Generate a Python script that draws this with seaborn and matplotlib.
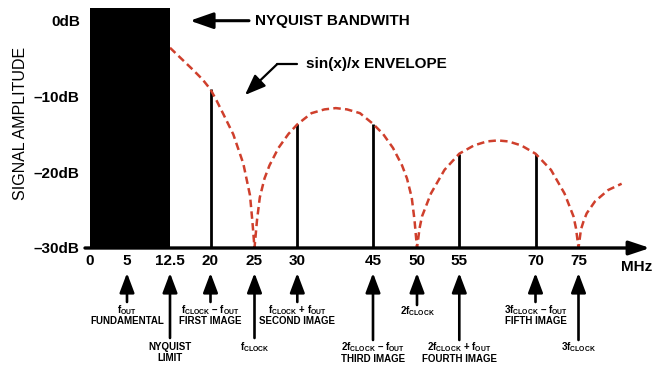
import numpy as np
import pandas as pd
import matplotlib
matplotlib.use("Agg")
import matplotlib.pyplot as plt
import seaborn as sns

# ---------------- data ----------------
env_mhz = [12.5, 14.35, 16.81, 18.52, 20, 20.68, 21.45, 22.59, 23.73, 24.49, 24.77, 25,
           25.29, 25.62, 26.17, 26.75, 27.80, 28.97, 30, 32.81, 35.39, 37.62, 39.85, 42.42,
           45, 46.14, 47.27, 48.30, 48.86, 49.40, 49.72, 50,
           50.30, 50.59, 51.65, 53.25, 55, 57.89, 60.45, 62.57, 64.64, 67.20, 70,
           71.80, 73.37, 74.42, 74.71, 75,
           75.29, 75.59, 75.96, 76.94, 78.51, 80.08]
env_db = [-3.55, -4.82, -6.50, -7.73, -9.05, -10.50, -12.29, -14.99, -18.86, -23.05, -26.62, -30,
          -26.35, -23.32, -20.81, -19.09, -16.78, -14.93, -13.67, -12.19, -11.69, -11.52, -11.69, -12.19,
          -13.6, -14.93, -16.78, -19.09, -20.81, -23.32, -26.35, -30,
          -27.41, -25.83, -22.79, -19.68, -17.54, -16.45, -15.92, -15.79, -15.92, -16.45, -17.54,
          -19.68, -22.79, -25.83, -27.41, -30,
          -27.54, -26.49, -25.43, -23.84, -22.33, -21.51]

line_mhz = [5, 20, 30, 45, 55, 70]
line_db = [0, -9.05, -13.67, -13.6, -17.54, -17.54]

nyquist_band = [0, 12.5]
nyquist_top_db = 1.74

xtick_vals = [0, 5, 12.5, 20, 25, 30, 45, 50, 55, 70, 75]
xtick_labels = ["0", "5", "12.5", "20", "25", "30", "45", "50", "55", "70", "75"]
ytick_vals = [0, -10, -20, -30]
ytick_labels = ["0dB", "–10dB", "–20dB", "–30dB"]

ann_mhz = [5, 12.5, 20, 25, 30, 45, 50, 55, 70, 75]
ann_line1 = [r"$\mathregular{f_{OUT}}$",
             "NYQUIST",
             r"$\mathregular{f_{CLOCK}}$ – $\mathregular{f_{OUT}}$",
             r"$\mathregular{f_{CLOCK}}$",
             r"$\mathregular{f_{CLOCK}}$ + $\mathregular{f_{OUT}}$",
             r"$\mathregular{2f_{CLOCK}}$ – $\mathregular{f_{OUT}}$",
             r"$\mathregular{2f_{CLOCK}}$",
             r"$\mathregular{2f_{CLOCK}}$ + $\mathregular{f_{OUT}}$",
             r"$\mathregular{3f_{CLOCK}}$ – $\mathregular{f_{OUT}}$",
             r"$\mathregular{3f_{CLOCK}}$"]
ann_line2 = ["FUNDAMENTAL", "LIMIT", "FIRST IMAGE", "", "SECOND IMAGE",
             "THIRD IMAGE", "", "FOURTH IMAGE", "FIFTH IMAGE", ""]

# ---------------- layout / style ----------------
# schematic (non-linear) frequency axis: MHz -> horizontal position
scale_mhz = [-10, 0, 5, 12.5, 20, 25, 30, 45, 50, 55, 70, 75, 80, 100]
scale_pos = [16, 90, 127, 170, 210.5, 254.5, 297.3, 373, 417, 459.3, 535.5, 578.5, 621, 779]
# per annotation: arrow tail y, line1 baseline y, line2 baseline y (image pixels)
ann_layout = {5: (302, 313, 324), 12.5: (338, 349.5, 361), 20: (302, 313, 324),
              25: (338, 350.5, None), 30: (302, 313, 324), 45: (340, 350.5, 362),
              50: (305, 314, None), 55: (340, 350.5, 362), 70: (302, 313, 324),
              75: (340, 350.5, None)}

RED = "#cf3f2c"
W, H = 656, 365

sns.set_theme(style="white")
plt.rcParams["font.family"] = ["Liberation Sans", "DejaVu Sans"]
plt.rcParams["mathtext.fontset"] = "custom"
plt.rcParams["mathtext.rm"] = "Liberation Sans:bold"
plt.rcParams["mathtext.bf"] = "Liberation Sans:bold"

fig = plt.figure(figsize=(W / 100, H / 100), dpi=100)
ax_left, ax_bottom_px = 84, 248
ax = fig.add_axes([ax_left / W, (H - ax_bottom_px) / H, (W - ax_left) / W, ax_bottom_px / H])
ax.set_facecolor("white")


def fwd(x):
    return np.interp(x, scale_mhz, scale_pos)


def inv(p):
    return np.interp(p, scale_pos, scale_mhz)


ax.set_xscale("function", functions=(fwd, inv))
ax.set_xlim(inv(ax_left), inv(W))
ax.set_ylim(-30, 2.76)
for s in ax.spines.values():
    s.set_visible(False)

# spectral lines
ax.vlines(line_mhz, -30, line_db, color="black", lw=2.0, zorder=3)

# envelope
env = pd.DataFrame({"MHz": env_mhz, "dB": env_db})
sns.lineplot(data=env, x="MHz", y="dB", ax=ax, color=RED, lw=1.8, estimator=None,
             sort=False, zorder=4)
ax.lines[-1].set_dashes((3.0, 1.7))
ax.lines[-1].set_solid_joinstyle("round")

# Nyquist band
ax.fill_between(nyquist_band, -30, nyquist_top_db, color="black", lw=0, zorder=5)

# x axis arrow
ax.annotate("", xy=(inv(650), -30), xytext=(inv(85), -30),
            arrowprops=dict(arrowstyle="-|>,head_length=0.9,head_width=0.3", color="black",
                            lw=2.4, mutation_scale=14, shrinkA=0, shrinkB=0),
            annotation_clip=False, zorder=6)

ax.set_xticks(xtick_vals)
ax.set_xticklabels(xtick_labels)
ax.set_yticks(ytick_vals)
ax.set_yticklabels(ytick_labels)
ax.tick_params(axis="both", length=0, labelsize=11, colors="black")
ax.tick_params(axis="x", pad=4)
ax.tick_params(axis="y", pad=3)
for lab in ax.get_xticklabels() + ax.get_yticklabels():
    lab.set_fontweight("bold")
ax.set_xlabel("")
ax.set_ylabel("")
ax.grid(False)


def P(x, y):
    return (x, H - y)


fig.text(21 / W, 1 - 123 / H, "SIGNAL AMPLITUDE", rotation=90, ha="center", va="center",
         fontsize=11.5, color="black")
fig.text(637 / W, 1 - 267 / H, "MHz", ha="center", va="center", fontsize=11,
         fontweight="bold", color="black")

# top annotations
fig.text(255 / W, 1 - 20.7 / H, "NYQUIST BANDWITH", ha="left", va="center",
         fontsize=11, fontweight="bold", color="black")
ax.annotate("", xy=P(190, 20.7), xycoords="figure pixels", xytext=P(249, 20.7),
            textcoords="figure pixels",
            arrowprops=dict(arrowstyle="-|>,head_length=1.0,head_width=0.35", color="black",
                            lw=2.2, mutation_scale=14, shrinkA=0, shrinkB=0),
            annotation_clip=False)
fig.text(306 / W, 1 - 64.3 / H, "sin(x)/x ENVELOPE", ha="left", va="center",
         fontsize=11, fontweight="bold", color="black")
fig.add_artist(plt.Line2D([297 / W, 276.5 / W], [1 - 64.3 / H, 1 - 64.3 / H],
                          color="black", lw=1.6, transform=fig.transFigure))
ax.annotate("", xy=P(245, 95), xycoords="figure pixels", xytext=P(277, 64.3),
            textcoords="figure pixels",
            arrowprops=dict(arrowstyle="-|>,head_length=0.9,head_width=0.35", color="black",
                            lw=1.6, mutation_scale=14, shrinkA=0, shrinkB=0),
            annotation_clip=False)

# bottom annotations
xt = ax.get_xaxis_transform()


def yfrac(p):
    return (ax_bottom_px - p) / ax_bottom_px


for m, l1, l2 in zip(ann_mhz, ann_line1, ann_line2):
    tail, y1, y2 = ann_layout[m]
    ax.annotate("", xy=(m, yfrac(273)), xycoords=xt, xytext=(m, yfrac(tail)), textcoords=xt,
                arrowprops=dict(arrowstyle="-|>,head_length=0.85,head_width=0.32",
                                color="black", lw=1.9, mutation_scale=14, shrinkA=0, shrinkB=0),
                annotation_clip=False)
    ax.text(m, yfrac(y1), l1, transform=xt, ha="center", va="baseline", fontsize=7,
            fontweight="bold", color="black", clip_on=False)
    if l2:
        ax.text(m, yfrac(y2), l2, transform=xt, ha="center", va="baseline", fontsize=7,
                fontweight="bold", color="black", clip_on=False)

fig.savefig("out.png", dpi=100, facecolor="white")
